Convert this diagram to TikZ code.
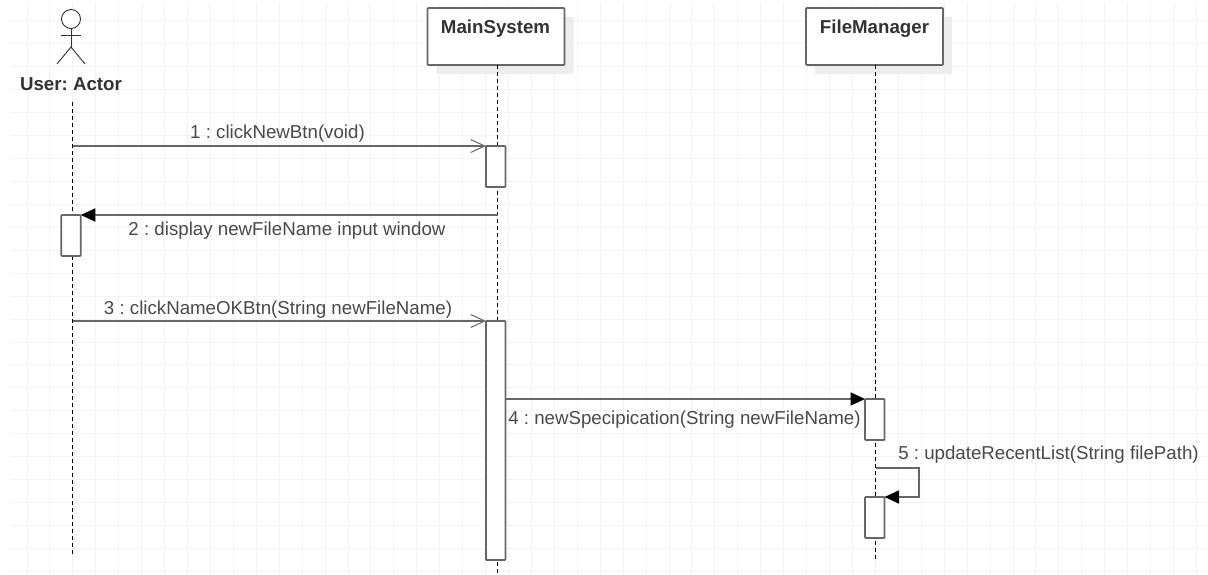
\documentclass[tikz,border=0pt]{standalone}
\usepackage{fontspec}
\setmainfont{Liberation Sans}
\usetikzlibrary{arrows.meta,shadows}
\definecolor{gridcol}{HTML}{F3F3F3}
\definecolor{linecol}{HTML}{666666}
\definecolor{textcol}{HTML}{4A4A4A}
\tikzset{
  objbox/.style={rectangle, draw=linecol, line width=1.8pt, rounded corners=0.8pt, fill=white, inner sep=0pt, outer sep=0pt,
    drop shadow={shadow xshift=9pt, shadow yshift=-9pt, fill=black!7, opacity=1}},
  activation/.style={rectangle, draw=linecol, line width=1.8pt, rounded corners=0.8pt, fill=white, inner sep=0pt, outer sep=0pt, minimum width=19.5pt},
  lifeline/.style={draw=black, line width=0.9pt, dash pattern=on 4pt off 3pt},
  syncmsg/.style={draw=linecol, line width=1.8pt, -{Triangle[length=14.5pt,width=13pt,black]}},
  openmsg/.style={draw=linecol, line width=1.8pt, -{Straight Barb[length=14pt,width=13pt,line width=1pt]}},
  msglabel/.style={text=textcol, font=\fontsize{18.7}{20}\selectfont\frenchspacing, inner sep=0pt},
  objlabel/.style={text=black!80, font=\fontsize{18.7}{20}\selectfont\bfseries\frenchspacing, inner sep=0pt}
}
\begin{document}
\begin{tikzpicture}[x=1pt, y=-1pt]
    \useasboundingbox (0,0) rectangle (1208,575);
    \fill[white] (0,0) rectangle (1208,575);

    % background grid
    \foreach \i in {0,...,51}
        \draw[gridcol, line width=1pt] (27+22.93*\i,3) -- (27+22.93*\i,575);
    \foreach \j in {0,...,24}
        \draw[gridcol, line width=1pt] (10,21+22.93*\j) -- (1208,21+22.93*\j);

    % objects
    \node[objbox, minimum width=137pt, minimum height=57pt] (mainsystem) at (496,36.5) {};
    \node[objbox, minimum width=137pt, minimum height=57pt] (filemanager) at (874.5,36.5) {};
    \node[objlabel] (mainlabel) at (495.5,28.5) {MainSystem};
    \node[objlabel] (filelabel) at (874.5,28.5) {FileManager};

    % actor
    \node[circle, draw=black!80, line width=0.9pt, fill=white, minimum size=19pt, inner sep=0pt] (head) at (71,19) {};
    \coordinate (hip) at (71,47);
    \coordinate (armleft) at (61,35);
    \coordinate (armright) at (81,35);
    \coordinate (footleft) at (57,64);
    \coordinate (footright) at (85,64);
    \draw[black!80, line width=0.9pt] (head.south) -- (hip);
    \draw[black!80, line width=0.9pt] (armleft) -- (armright);
    \draw[black!80, line width=0.9pt] (footleft) -- (hip) -- (footright);
    \node[objlabel] (userlabel) at (71,84) {User: Actor};

    % lifelines
    \coordinate (usertop) at (72.5,102);
    \coordinate (userend) at (72.5,555);
    \coordinate (maintop) at (497.5,65);
    \coordinate (mainend) at (497.5,575);
    \coordinate (filetop) at (875.5,65);
    \coordinate (fileend) at (875.5,562);
    \draw[lifeline] (usertop) -- (userend);
    \draw[lifeline] (maintop) -- (mainend);
    \draw[lifeline] (filetop) -- (fileend);

    % activations
    \node[activation, minimum height=41pt] (main1) at (495.7,166.5) {};
    \node[activation, minimum height=41pt] (user1) at (71,235.5) {};
    \node[activation, minimum height=239pt] (main2) at (495.7,440.5) {};
    \node[activation, minimum height=41pt] (file1) at (874.8,419.5) {};
    \node[activation, minimum height=41pt] (file2) at (874.8,517.5) {};

    % messages
    \coordinate (from1) at (usertop |- main1.north);
    \draw[openmsg] (from1) -- (main1.north west);
    \node[msglabel] (text1) at (277.5,134) {1 : clickNewBtn(void)};

    \coordinate (from2) at (maintop |- user1.north);
    \draw[syncmsg] (from2) -- (user1.north east);
    \node[msglabel] (text2) at (287,231) {2 : display newFileName input window};

    \coordinate (from3) at (usertop |- main2.north);
    \draw[openmsg] (from3) -- (main2.north west);
    \node[msglabel] (text3) at (278,310) {3 : clickNameOKBtn(String newFileName)};

    \coordinate (from4) at (main2.east |- file1.north);
    \draw[syncmsg] (from4) -- (file1.north west);
    \node[msglabel] (text4) at (684.5,420) {4 : newSpecipication(String newFileName)};

    \coordinate (from5) at (875.5,468);
    \coordinate (turn5) at (918.7,468);
    \draw[syncmsg] (from5) -- (turn5) -- (turn5 |- file2.north) -- (file2.north east);
    \node[msglabel] (text5) at (1048.5,455) {5 : updateRecentList(String filePath)};
\end{tikzpicture}
\end{document}
